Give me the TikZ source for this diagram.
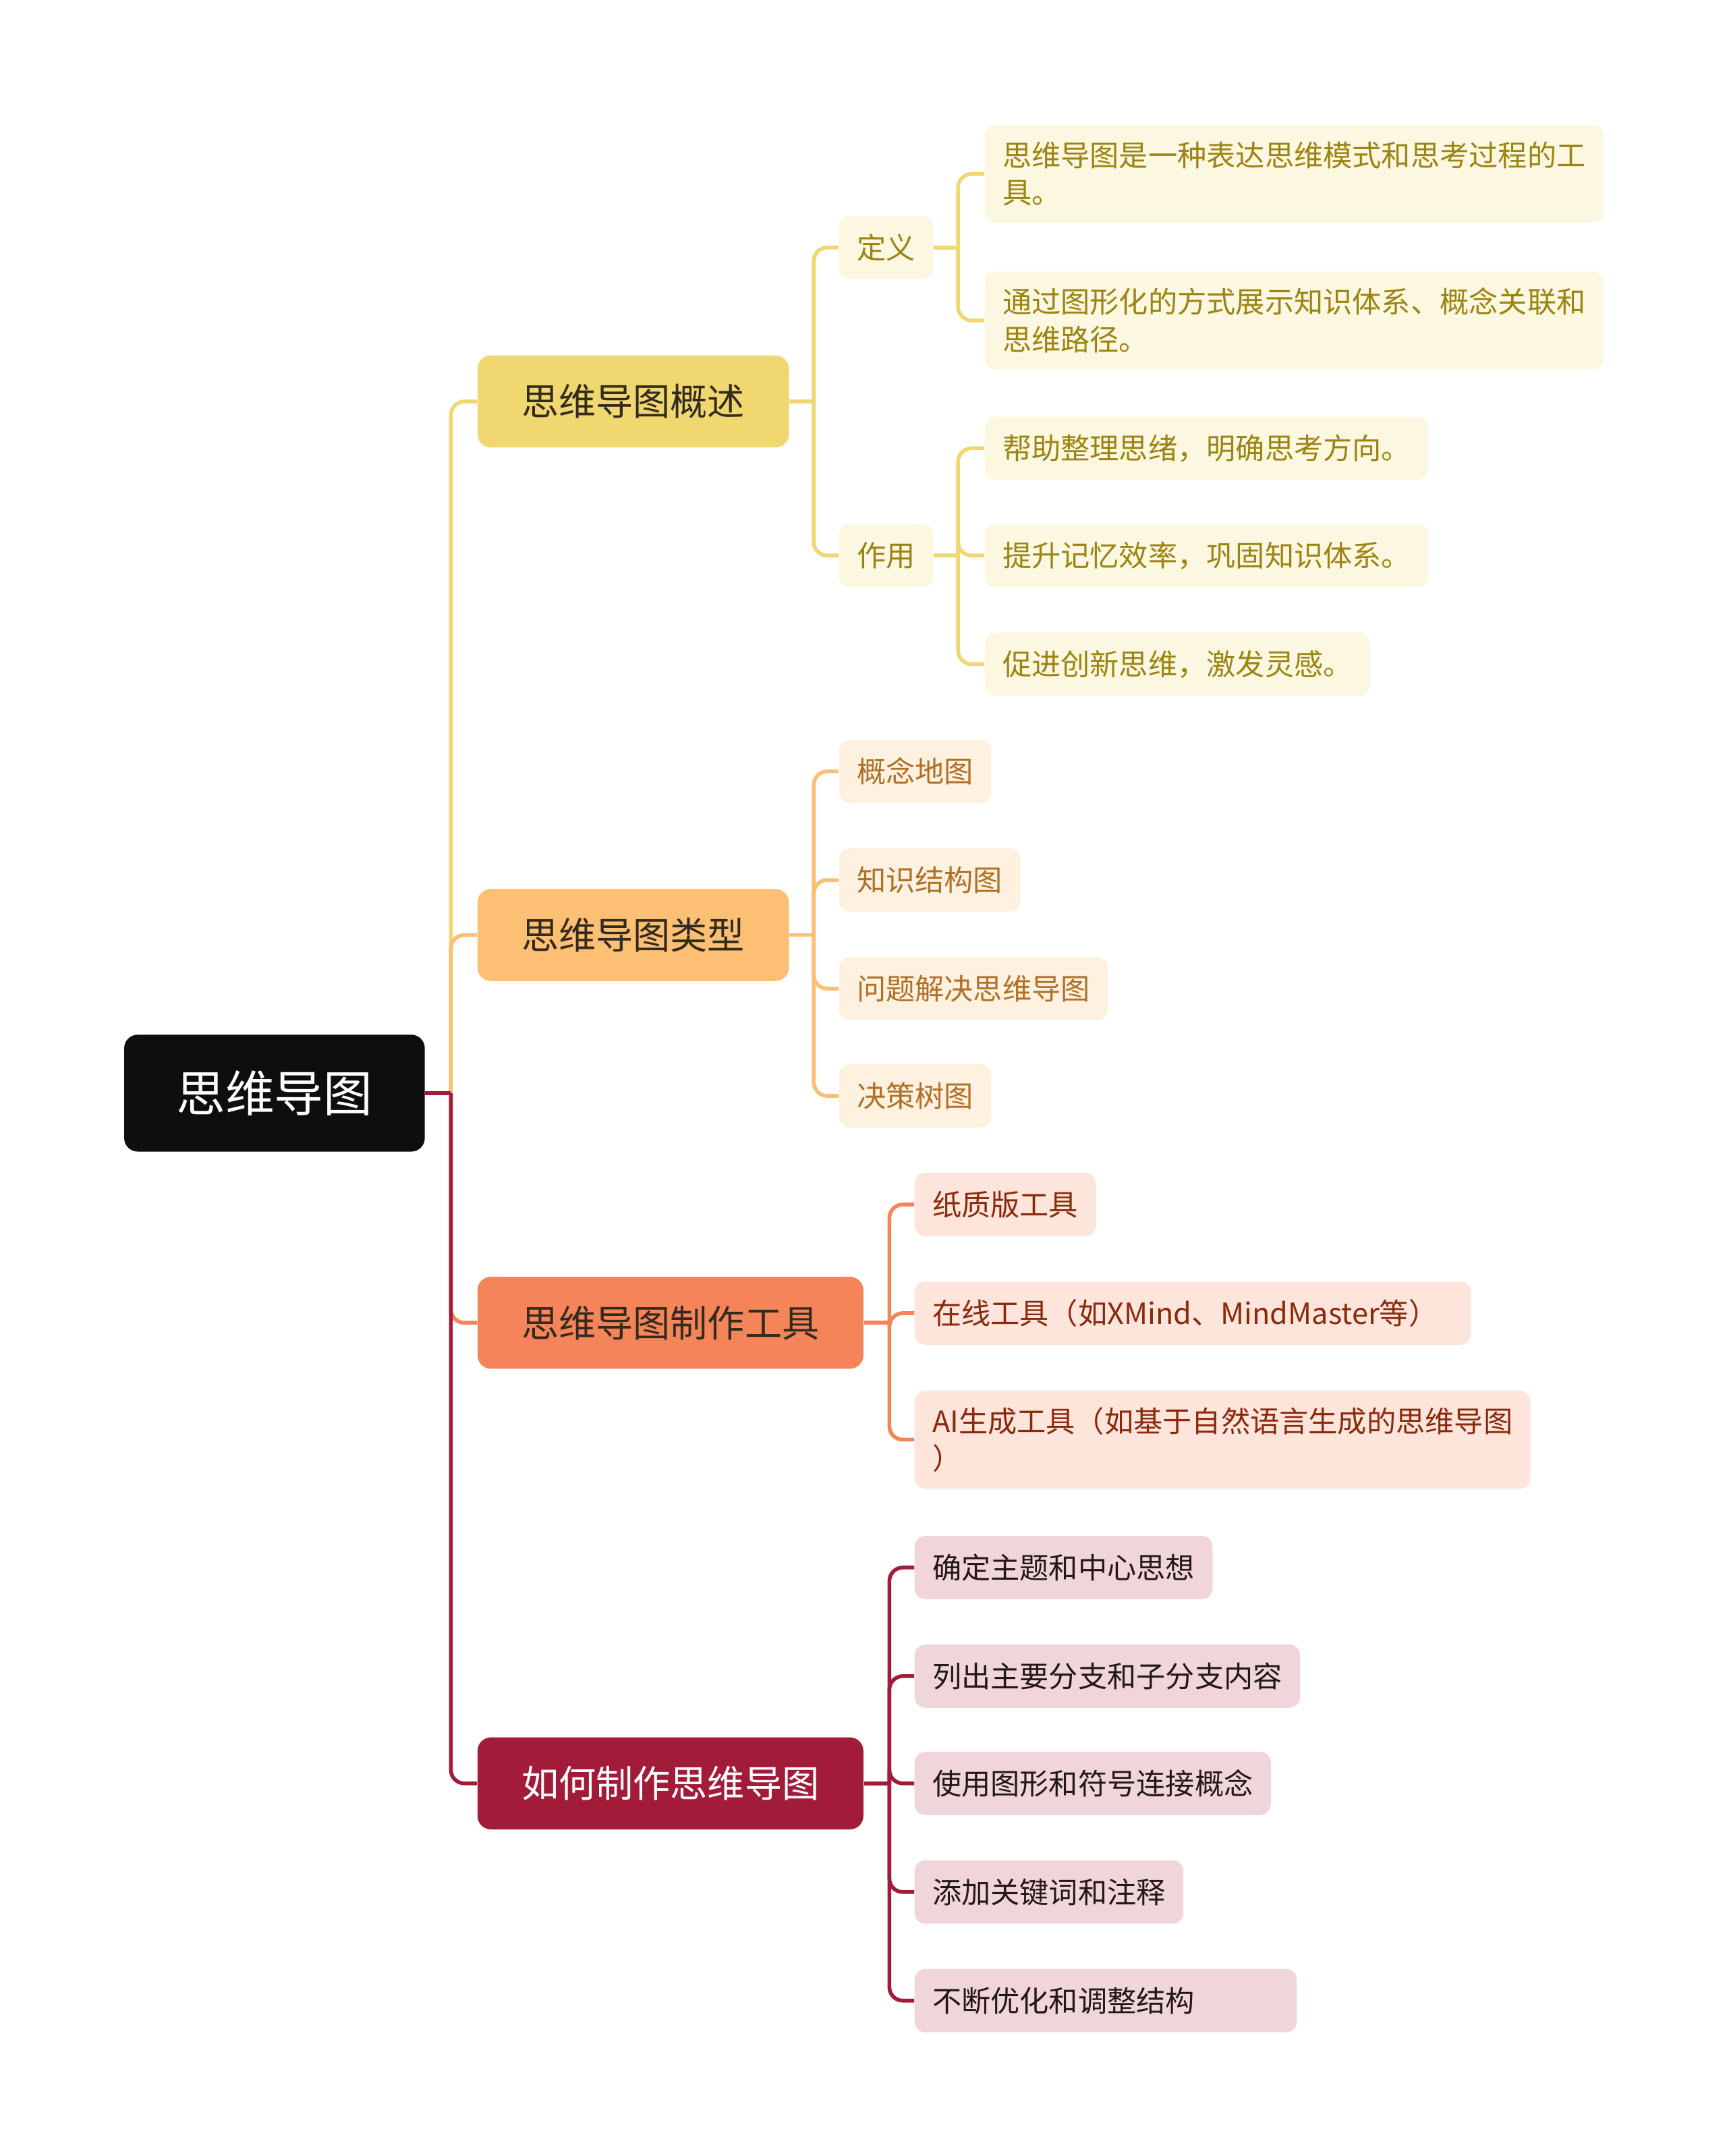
\documentclass[tikz,border=0pt]{standalone}
\usepackage{fontspec}
\setmainfont{Noto Sans CJK SC}
\usetikzlibrary{positioning}
\definecolor{rootbg}{HTML}{0E0E0E}
\definecolor{colA}{HTML}{F0D770}
\definecolor{colB}{HTML}{FCBF74}
\definecolor{colC}{HTML}{F5845A}
\definecolor{colD}{HTML}{A21C39}
\definecolor{leafA}{HTML}{FCF7E0}
\definecolor{leafB}{HTML}{FEF1DF}
\definecolor{leafC}{HTML}{FDE5DC}
\definecolor{leafD}{HTML}{F0D6DB}
\definecolor{txtA}{HTML}{9C8412}
\definecolor{txtB}{HTML}{B07028}
\definecolor{txtC}{HTML}{8A2A0C}
\definecolor{txtD}{HTML}{231815}
\definecolor{txtmain}{HTML}{332C1E}

\begin{document}
\begin{tikzpicture}[x=0.2038mm, y=-0.2038mm,
        rootbox/.style={anchor=west, fill=rootbg, text=white, rounded corners=2mm,
            minimum height=49.3pt, inner xsep=22pt, font=\fontsize{20.7}{24}\selectfont},
        mainbox/.style={anchor=west, rounded corners=2mm, minimum height=38.8pt,
            inner xsep=18.6pt, text=txtmain, font=\fontsize{15.7}{19}\selectfont},
        leaf/.style={anchor=west, rounded corners=1.6mm, minimum height=26.7pt,
            inner xsep=7.5pt, inner ysep=7pt, align=left, font=\fontsize{12.3}{15.7}\selectfont},
        lfA/.style={leaf, fill=leafA, text=txtA},
        lfB/.style={leaf, fill=leafB, text=txtB},
        lfC/.style={leaf, fill=leafC, text=txtC},
        lfD/.style={leaf, fill=leafD, text=txtD},
        ln/.style={line width=1.6pt, rounded corners=2mm},
        lnA/.style={ln, colA},
        lnB/.style={ln, colB},
        lnC/.style={ln, colC},
        lnD/.style={ln, colD}]
        \useasboundingbox (0,0) rectangle (1256,1568);
        % Centre and main topics
        \node[rootbox] (root) at (90,795) {思维导图};
        \node[mainbox, fill=colA] (gaishu) at (347,292) {思维导图概述};
        \node[mainbox, fill=colB] (leixing) at (347,680) {思维导图类型};
        \node[mainbox, fill=colC] (gongju) at (347,962) {思维导图制作工具};
        \node[mainbox, fill=colD, text=white] (zhizuo) at (347,1297) {如何制作思维导图};
        % Overview
        \node[lfA] (dingyi) at (610,180) {定义};
        \node[lfA] (zuoyong) at (610,404) {作用};
        \node[lfA] (dy1) at (716,126.5) {思维导图是一种表达思维模式和思考过程的工\\具。};
        \node[lfA] (dy2) at (716,233) {通过图形化的方式展示知识体系、概念关联和\\思维路径。};
        \node[lfA] (zy1) at (716,326) {帮助整理思绪，明确思考方向。};
        \node[lfA] (zy2) at (716,404) {提升记忆效率，巩固知识体系。};
        \node[lfA] (zy3) at (716,483) {促进创新思维，激发灵感。};
        % Types
        \node[lfB] (lx1) at (610,561) {概念地图};
        \node[lfB] (lx2) at (610,640) {知识结构图};
        \node[lfB] (lx3) at (610,719) {问题解决思维导图};
        \node[lfB] (lx4) at (610,797) {决策树图};
        % Tools
        \node[lfC] (gj1) at (665,876) {纸质版工具};
        \node[lfC, text width=7.72cm] (gj2) at (665,955) {在线工具（如XMind、MindMaster等）};
        \node[lfC] (gj3) at (665,1047) {AI生成工具（如基于自然语言生成的思维导图\\）};
        % Steps
        \node[lfD] (bz1) at (665,1140) {确定主题和中心思想};
        \node[lfD] (bz2) at (665,1219) {列出主要分支和子分支内容};
        \node[lfD] (bz3) at (665,1297) {使用图形和符号连接概念};
        \node[lfD] (bz4) at (665,1376) {添加关键词和注释};
        \node[lfD, text width=5.14cm] (bz5) at (665,1455) {不断优化和调整结构};
        % Junctions
        \coordinate (jr) at (328,795);
        \coordinate (ja) at (592,292);
        \coordinate (jdy) at (697,180);
        \coordinate (jzy) at (697,404);
        \coordinate (jb) at (592,680);
        \coordinate (jc) at (647,962);
        \coordinate (jd) at (647,1297);
        % Connectors
        \draw[lnA] (jr) |- (gaishu.west);
        \draw[lnB] (jr) |- (leixing.west);
        \draw[lnC] (jr) |- (gongju.west);
        \draw[lnD] (jr) |- (zhizuo.west);
        \draw[lnD] (root.east) -- (jr);
        \draw[lnA] (gaishu.east) -- (ja);
        \draw[lnA] (ja) |- (dingyi.west);
        \draw[lnA] (ja) |- (zuoyong.west);
        \draw[lnA] (dingyi.east) -- (jdy);
        \draw[lnA] (zuoyong.east) -- (jzy);
        \foreach \n in {dy1,dy2} \draw[lnA] (jdy) |- (\n.west);
        \foreach \n in {zy1,zy2,zy3} \draw[lnA] (jzy) |- (\n.west);
        \draw[lnB] (leixing.east) -- (jb);
        \foreach \n in {lx1,lx2,lx3,lx4} \draw[lnB] (jb) |- (\n.west);
        \draw[lnC] (gongju.east) -- (jc);
        \foreach \n in {gj1,gj2,gj3} \draw[lnC] (jc) |- (\n.west);
        \draw[lnD] (zhizuo.east) -- (jd);
        \foreach \n in {bz1,bz2,bz3,bz4,bz5} \draw[lnD] (jd) |- (\n.west);
\end{tikzpicture}
\end{document}
